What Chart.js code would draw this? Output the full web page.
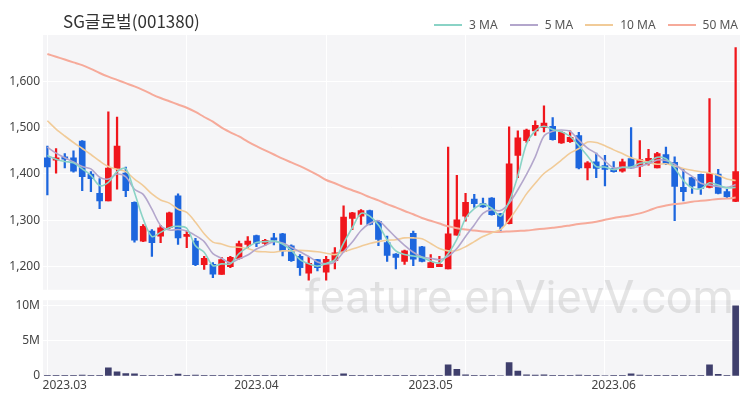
<!DOCTYPE html>
<html>
<head>
<meta charset="utf-8">
<script src="https://cdn.jsdelivr.net/npm/chart.js"></script>
<style>
  html, body { margin:0; padding:0; background:#fff; }
  #wrap { position:relative; width:750px; height:400px; overflow:hidden; }
  #cPrice { position:absolute; left:0; top:0; }
  #cVol { position:absolute; left:0; top:290px; }
  #title { position:absolute; left:63px; top:8px; font:17px "Noto Sans CJK KR", sans-serif; color:#333; }
  #legend { position:absolute; right:12px; top:16px; display:flex; font:12px "Noto Sans", sans-serif; color:#555; }
  #legend .item { display:flex; align-items:center; margin-left:12px; }
  #legend i { display:inline-block; width:28px; height:2px; margin-right:7px; }
  #mark { position:absolute; left:304px; top:269px; font:47px Roboto, sans-serif; color:rgba(175,175,175,.33); pointer-events:none; }
</style>
</head>
<body>
<div id="wrap">
  <canvas id="cPrice" width="750" height="300"></canvas>
  <canvas id="cVol" width="750" height="110"></canvas>
  <div id="title">SG글로벌(001380)</div>
  <div id="legend"></div>
  <div id="mark">feature.enVievV.com</div>
</div>
<script>
// ---------- data ----------
const dates = ['2023-02-27','2023-02-28','2023-03-02','2023-03-03','2023-03-06','2023-03-07','2023-03-08','2023-03-09','2023-03-10','2023-03-13',
  '2023-03-14','2023-03-15','2023-03-16','2023-03-17','2023-03-20','2023-03-21','2023-03-22','2023-03-23','2023-03-24','2023-03-27',
  '2023-03-28','2023-03-29','2023-03-30','2023-03-31','2023-04-03','2023-04-04','2023-04-05','2023-04-06','2023-04-07','2023-04-10',
  '2023-04-11','2023-04-12','2023-04-13','2023-04-14','2023-04-17','2023-04-18','2023-04-19','2023-04-20','2023-04-21','2023-04-24',
  '2023-04-25','2023-04-26','2023-04-27','2023-04-28','2023-05-01','2023-05-02','2023-05-03','2023-05-04','2023-05-08','2023-05-09',
  '2023-05-10','2023-05-11','2023-05-12','2023-05-15','2023-05-16','2023-05-17','2023-05-18','2023-05-19','2023-05-22','2023-05-23',
  '2023-05-24','2023-05-25','2023-05-26','2023-05-30','2023-05-31','2023-06-01','2023-06-02','2023-06-05','2023-06-07','2023-06-08',
  '2023-06-09','2023-06-12','2023-06-13','2023-06-14','2023-06-15','2023-06-16','2023-06-19','2023-06-20','2023-06-21','2023-06-22'];

const opens = [1435,1430,1437,1435,1471,1400,1358,1342,1412,1402, 1339,1255,1277,1266,1284,1353,1265,1255,1204,1205,
  1183,1200,1218,1248,1267,1250,1262,1271,1245,1222, 1186,1215,1188,1213,1233,1304,1309,1321,1298,1252,
  1227,1211,1272,1243,1198,1200,1195,1268,1309,1346, 1336,1348,1314,1293,1440,1472,1493,1500,1503,1467,
  1470,1483,1413,1426,1418,1412,1406,1433,1417,1422, 1413,1442,1425,1371,1392,1399,1371,1400,1362,1341];
const highs = [1460,1455,1444,1450,1472,1405,1390,1534,1523,1415, 1340,1291,1280,1289,1318,1357,1277,1261,1222,1209,
  1220,1222,1255,1265,1268,1259,1272,1272,1247,1226, 1220,1216,1222,1241,1331,1317,1323,1322,1300,1266,
  1228,1236,1277,1244,1226,1222,1458,1397,1358,1356, 1348,1349,1315,1502,1493,1497,1515,1547,1522,1492,
  1493,1490,1427,1445,1440,1427,1432,1500,1472,1453, 1447,1458,1437,1410,1393,1400,1563,1410,1367,1673];
const lows = [1355,1402,1413,1404,1364,1362,1325,1342,1367,1351, 1253,1254,1222,1252,1282,1248,1241,1202,1194,1176,
  1183,1198,1216,1240,1243,1245,1247,1223,1211,1181, 1171,1191,1171,1195,1232,1280,1291,1290,1245,1211,
  1195,1205,1202,1210,1198,1200,1195,1268,1298,1328, 1328,1311,1275,1292,1392,1468,1483,1491,1473,1466,
  1468,1411,1387,1392,1374,1404,1404,1412,1394,1419, 1413,1420,1299,1342,1358,1356,1370,1357,1348,1340];
const closes = [1415,1435,1432,1406,1394,1390,1342,1413,1460,1364, 1257,1287,1252,1284,1316,1262,1270,1204,1218,1184,
  1215,1220,1250,1255,1250,1257,1257,1234,1213,1198, 1207,1198,1216,1230,1307,1316,1321,1291,1259,1224,
  1220,1234,1216,1211,1209,1205,1271,1301,1339,1336, 1329,1312,1287,1422,1478,1495,1505,1510,1474,1490,
  1479,1413,1424,1412,1410,1405,1426,1413,1431,1434, 1444,1422,1373,1362,1374,1369,1401,1358,1351,1405];

const ma3 = [1440,1432,1427,1424,1411,1397,1375,1382,1405,1412, 1360,1303,1265,1274,1284,1287,1283,1245,1231,1202,
  1206,1206,1228,1242,1252,1254,1255,1249,1235,1215, 1206,1201,1207,1215,1251,1284,1315,1309,1290,1258,
  1234,1226,1223,1220,1212,1208,1228,1259,1304,1325, 1335,1326,1309,1340,1396,1465,1493,1503,1496,1491,
  1481,1461,1439,1416,1415,1409,1414,1415,1423,1426, 1436,1433,1413,1386,1370,1368,1381,1376,1370,1371];
const ma5 = [1458,1445,1435,1426,1416,1411,1393,1389,1400,1394, 1367,1356,1324,1289,1279,1280,1277,1267,1254,1228,
  1218,1208,1217,1225,1238,1246,1254,1251,1242,1232, 1222,1210,1206,1210,1232,1253,1278,1293,1299,1282,
  1263,1246,1231,1221,1218,1215,1222,1239,1265,1290, 1315,1323,1321,1337,1366,1399,1437,1482,1492,1495,
  1492,1473,1456,1444,1428,1413,1415,1413,1417,1422, 1430,1429,1421,1407,1395,1380,1376,1373,1371,1377];
const ma10 = [1515,1497,1482,1468,1455,1442,1428,1416,1410,1405, 1389,1375,1357,1344,1337,1324,1317,1296,1271,1253,
  1249,1243,1242,1239,1233,1232,1231,1234,1234,1235, 1234,1232,1229,1226,1232,1238,1244,1250,1254,1257,
  1258,1262,1262,1260,1250,1239,1234,1235,1243,1254, 1265,1273,1280,1301,1328,1357,1380,1401,1415,1430,
  1445,1455,1469,1468,1461,1452,1444,1435,1430,1425, 1421,1422,1417,1412,1408,1405,1402,1397,1389,1386];
const ma50 = [1659,1653,1647,1641,1635,1627,1618,1610,1603,1596, 1589,1581,1572,1564,1557,1550,1543,1534,1523,1513,
  1500,1490,1481,1470,1460,1451,1442,1433,1425,1417, 1408,1398,1387,1380,1372,1365,1358,1350,1343,1335,
  1328,1320,1313,1305,1299,1293,1287,1283,1280,1278, 1276,1275,1275,1276,1277,1278,1280,1282,1284,1286,
  1289,1292,1294,1297,1301,1305,1308,1311,1315,1321, 1328,1332,1335,1337,1340,1342,1344,1346,1347,1349];

const volumes = [50000,40000,80000,50000,120000,60000,100000,1150000,600000,350000, 300000,80000,60000,50000,60000,280000,50000,120000,100000,50000,
  40000,50000,60000,40000,50000,40000,50000,60000,50000,40000, 50000,40000,50000,80000,300000,100000,80000,60000,60000,50000,
  40000,40000,60000,40000,40000,40000,1600000,950000,150000,80000, 60000,60000,70000,1900000,700000,150000,120000,150000,100000,60000,
  50000,120000,80000,60000,70000,50000,50000,300000,120000,60000, 50000,50000,100000,60000,50000,50000,1600000,250000,60000,10000000];

const priceTicks = [1200, 1300, 1400, 1500, 1600];
const volTicks = [0, 5000000, 10000000];

const maNames = ['3 MA', '5 MA', '10 MA', '50 MA'];
const maColors = ['#8ad3c6', '#b3a6cc', '#f1cb98', '#f6aa9a'];

// ---------- helpers ----------
const RED = '#f0161c', BLUE = '#1d66de';
const candleColors = closes.map((c, i) => c >= opens[i] ? RED : BLUE);
const AXIS_W = 43;
const tickFont = { family: '"Noto Sans", sans-serif', size: 12 };

const bgPlugin = {
  id: 'bg',
  beforeDraw(chart){
    const { ctx, chartArea: a } = chart;
    ctx.save();
    ctx.fillStyle = '#f5f5f7';
    ctx.fillRect(a.left, a.top, a.right - a.left, a.bottom - a.top);
    ctx.restore();
  }
};

function xGrid(){
  return { offset: false, drawTicks: false, lineWidth: 1,
    color: c => (c.index % 16 === 0 ? '#ffffff' : 'rgba(0,0,0,0)') };
}

// legend (html)
const lg = document.getElementById('legend');
maNames.forEach((n, i) => {
  const s = document.createElement('span');
  s.className = 'item';
  s.innerHTML = `<i style="background:${maColors[i]}"></i>${n}`;
  lg.appendChild(s);
});

// ---------- price chart ----------
const maSets = [ma3, ma5, ma10, ma50].map((d, i) => ({
  type: 'line', label: maNames[i], data: d, borderColor: maColors[i],
  borderWidth: i === 3 ? 2 : 1.6, pointRadius: 0, tension: 0.3, order: 0
}));

new Chart(document.getElementById('cPrice'), {
  type: 'bar',
  data: {
    labels: dates,
    datasets: [
      ...maSets,
      { label: 'body', data: opens.map((o, i) => [o, closes[i]]), backgroundColor: candleColors,
        barThickness: 6, grouped: false, borderWidth: 0, borderSkipped: false, order: 1 },
      { label: 'wick', data: lows.map((l, i) => [l, highs[i]]), backgroundColor: candleColors,
        barThickness: 1.6, grouped: false, borderWidth: 0, borderSkipped: false, order: 2 }
    ]
  },
  options: {
    responsive: false, animation: false,
    layout: { padding: { top: 35, right: 10, bottom: 7, left: 0 } },
    plugins: { legend: { display: false }, tooltip: { enabled: false } },
    scales: {
      x: { offset: true, grid: xGrid(), border: { display: false },
        ticks: { display: false }, afterFit: s => { s.height = 0; } },
      y: { min: 1150, max: 1700, border: { display: false },
        grid: { color: '#ffffff', lineWidth: 1, drawTicks: false },
        afterFit: s => { s.width = AXIS_W; },
        afterBuildTicks: s => { s.ticks = priceTicks.map(v => ({ value: v })); },
        ticks: { font: tickFont, color: '#444', padding: 3, callback: v => v.toLocaleString('en-US') } }
    }
  },
  plugins: [bgPlugin]
});

// ---------- volume chart ----------
new Chart(document.getElementById('cVol'), {
  type: 'bar',
  data: {
    labels: dates,
    datasets: [{ data: volumes, backgroundColor: '#3f3f6c', barThickness: 6, borderWidth: 0 }]
  },
  options: {
    responsive: false, animation: false,
    layout: { padding: { top: 7, right: 10, bottom: 0, left: 0 } },
    plugins: { legend: { display: false }, tooltip: { enabled: false } },
    scales: {
      x: { offset: true, grid: xGrid(), border: { display: false },
        afterFit: s => { s.height = 24; },
        ticks: { font: tickFont, color: '#444', padding: 2, autoSkip: false, maxRotation: 0,
          callback: (v, i) => {
            if (i === 0) return '';
            const m = dates[i].slice(0, 7), p = dates[i - 1].slice(0, 7);
            return m !== p ? m.replace('-', '.') : '';
          } } },
      y: { min: 0, max: 10800000, border: { display: false },
        grid: { color: '#ffffff', lineWidth: 1, drawTicks: false },
        afterFit: s => { s.width = AXIS_W; },
        afterBuildTicks: s => { s.ticks = volTicks.map(v => ({ value: v })); },
        ticks: { font: tickFont, color: '#444', padding: 3,
          callback: v => (v === 0 ? '0' : (v / 1000000) + 'M') } }
    }
  },
  plugins: [bgPlugin]
});
</script>
</body>
</html>
